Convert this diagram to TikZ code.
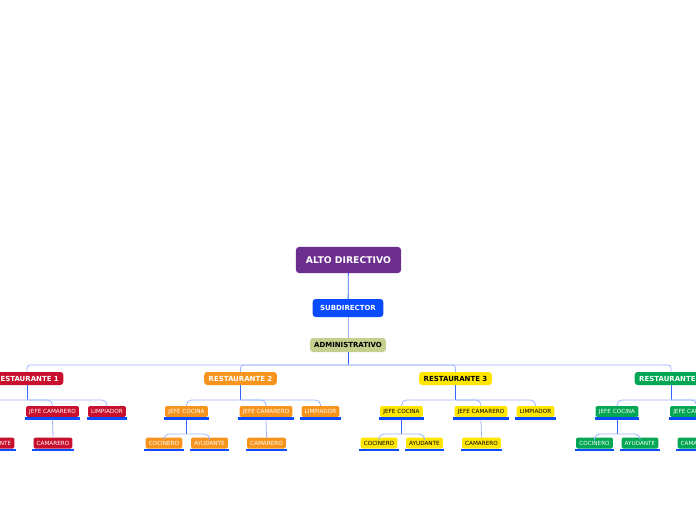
\documentclass[tikz,border=0pt]{standalone}
\usepackage{fontspec}
\setmainfont{DejaVu Sans}
\usetikzlibrary{positioning, calc}
\definecolor{morado}{HTML}{6B2D8E}
\definecolor{azul}{HTML}{0A4BFF}
\definecolor{oliva}{HTML}{C5CF8E}
\definecolor{rojo}{HTML}{C8102E}
\definecolor{naranja}{HTML}{F7941D}
\definecolor{amarillo}{HTML}{FFE600}
\definecolor{verde}{HTML}{00A651}
\definecolor{linea}{HTML}{3366FF}
\definecolor{lineaclara}{HTML}{9DB3FF}

\begin{document}
\begin{tikzpicture}[x=1bp, y=-1bp,
    jefe/.style={rectangle, rounded corners=3bp, inner ysep=0pt, align=center,
                 font=\bfseries\fontsize{7}{8}\selectfont},
    puesto/.style={rectangle, rounded corners=1.5bp, inner xsep=3.2bp, inner ysep=0pt,
                   minimum height=11bp, text height=4.2bp, text depth=0pt,
                   font=\fontsize{5.7}{6}\selectfont},
    raya/.style={azul, line width=2.5bp},
    conn/.style={linea, line width=0.8bp},
    connclaro/.style={lineaclara, line width=0.8bp, rounded corners=5bp}
]
\useasboundingbox (0,0) rectangle (696,520);

\node[jefe, fill=morado, text=white, inner xsep=10bp, minimum height=26bp,
      font=\bfseries\fontsize{9.3}{10}\selectfont] (alto) at (348.5,260) {ALTO DIRECTIVO};
\node[jefe, fill=azul, text=white, inner xsep=7.5bp, minimum height=18bp] (sub) at (348,308) {SUBDIRECTOR};
\node[jefe, fill=oliva, text=black, inner xsep=4bp, minimum height=14bp] (admin) at (348,345) {ADMINISTRATIVO};

\draw[conn] (alto) -- (sub);
\draw[connclaro] (sub) -- (admin);
\coordinate (bus) at (348,365);
\draw[conn] (admin) -- (bus);

\foreach \n/\x/\col/\txt in {1/27/rojo/white, 2/240.5/naranja/white,
                             3/455.5/amarillo/black, 4/671/verde/white} {
    \node[jefe, fill=\col, text=\txt, inner xsep=4.5bp, minimum height=13bp] (r\n) at (\x,378.5) {RESTAURANTE \n};
    \node[puesto, fill=\col, text=\txt] (jc\n) at (\x-54,411.5) {JEFE COCINA};
    \node[puesto, fill=\col, text=\txt] (jcam\n) at (\x+25.5,411.5) {JEFE CAMARERO};
    \node[puesto, fill=\col, text=\txt] (limp\n) at (\x+80,411.5) {LIMPIADOR};
    \node[puesto, fill=\col, text=\txt] (coc\n) at (\x-76.5,443) {COCINERO};
    \node[puesto, fill=\col, text=\txt] (ayu\n) at (\x-31,443) {AYUDANTE};
    \node[puesto, fill=\col, text=\txt] (cam\n) at (\x+26,443) {CAMARERO};

    % raya azul bajo cada puesto
    \foreach \p in {jc\n, jcam\n, limp\n, coc\n, ayu\n, cam\n}
        \draw[raya] ([xshift=-1bp, yshift=-1.3bp]\p.south west) -- ([xshift=1bp, yshift=-1.3bp]\p.south east);

    \draw[connclaro, rounded corners=3bp] (bus) -| (r\n.north);
    \coordinate (b\n) at (\x,400);
    \draw[conn] (r\n.south) -- (b\n);
    \foreach \p in {jc\n, jcam\n, limp\n}
        \draw[connclaro] (b\n) -| (\p.north);
    \coordinate (c\n) at (\x-54,434);
    \draw[conn] ([yshift=-2.5bp]jc\n.south) -- (c\n);
    \foreach \p in {coc\n, ayu\n}
        \draw[connclaro] (c\n) -| (\p.north);
    \draw[connclaro] ([yshift=-2.5bp]jcam\n.south) -- (cam\n.north);
}
\end{tikzpicture}
\end{document}
